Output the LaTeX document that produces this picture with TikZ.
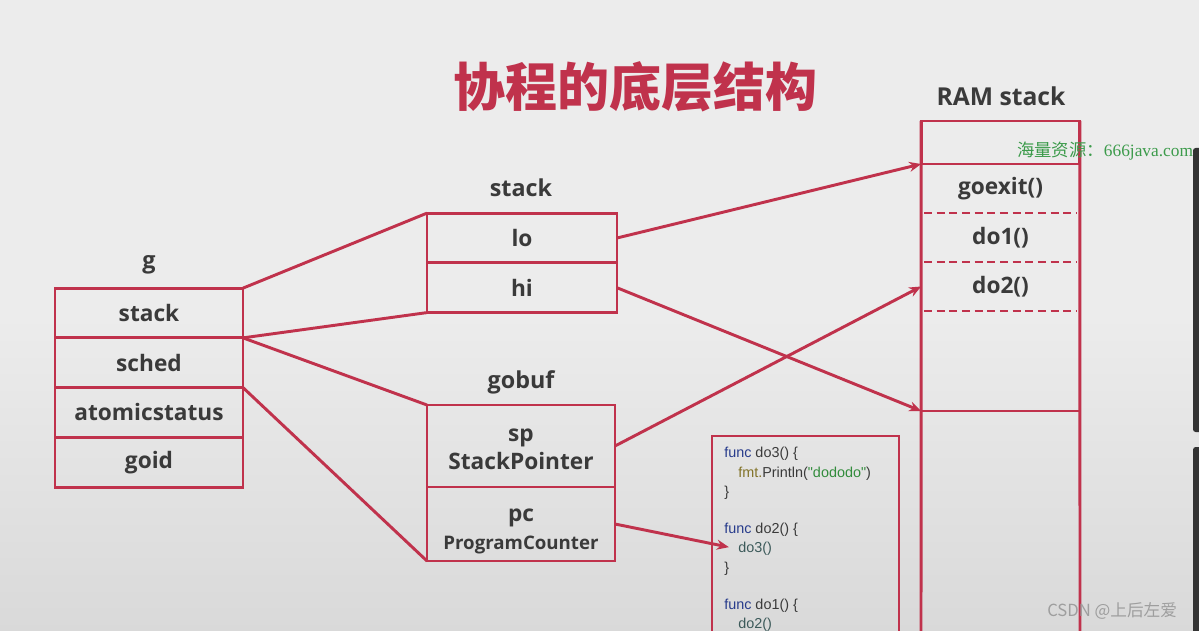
\documentclass[tikz,border=0pt]{standalone}
\usepackage{fontspec}
\setmainfont{Open Sans}
\newfontfamily\cjk{Noto Sans CJK SC}
\newfontfamily\codefont{Liberation Sans}
\newfontfamily\wmfont{Liberation Serif}
\usetikzlibrary{arrows.meta}
\definecolor{crim}{RGB}{192,50,76}
\definecolor{txt}{RGB}{58,58,58}
\definecolor{bgc}{RGB}{236,236,236}
\definecolor{kw}{RGB}{40,60,140}
\definecolor{fm}{RGB}{130,115,40}
\definecolor{strc}{RGB}{50,140,60}
\definecolor{idc}{RGB}{60,90,90}
\definecolor{wmg}{RGB}{60,155,75}
\tikzset{
  cell/.style={draw=crim, line width=2.2pt, inner sep=0pt, outer sep=0pt, text=txt,
    font=\bfseries\fontsize{17}{20}\selectfont, align=center},
  ramcell/.style={inner sep=0pt, outer sep=0pt, text=txt, minimum width=119pt,
    font=\bfseries\fontsize{17}{20}\selectfont},
  lbl/.style={text=txt, font=\bfseries\fontsize{17.5}{20}\selectfont, inner sep=0pt},
  link/.style={draw=crim, line width=2.2pt},
  arr/.style={link, -{Stealth[length=9pt,width=7.5pt]}},
  dsh/.style={draw=crim, line width=1.5pt, dash pattern=on 6pt off 3.5pt, shorten <=2pt, shorten >=2pt},
  codeln/.style={anchor=west, inner sep=0pt, font=\codefont\fontsize{10.8}{13}\selectfont, text=txt},
}
\begin{document}
\begin{tikzpicture}[x=0.75pt,y=-0.75pt]
\useasboundingbox (0,0) rectangle (1199,631);
\clip (0,0) rectangle (1199,631);
\shade[top color=bgc, bottom color=bgc!92!black, middle color=bgc] (0,0) rectangle (1199,631);

% title
\node[text=crim, font=\cjk\bfseries\fontsize{39}{44}\selectfont] (title) at (635,87) {协程的底层结构};

% g struct
\node[lbl] (glbl) at (149,265) {g};
\node[cell, minimum width=141pt, minimum height=37.3pt] (g1) at (149,313) {stack};
\node[cell, minimum width=141pt, minimum height=37.3pt, anchor=north] (g2) at (g1.south) {sched};
\node[cell, minimum width=141pt, minimum height=37.3pt, anchor=north] (g3) at (g2.south) {atomicstatus};
\node[cell, minimum width=141pt, minimum height=37.3pt, anchor=north] (g4) at (g3.south) {goid};

% stack struct
\node[lbl] (slbl) at (521,188) {stack};
\node[cell, minimum width=142.5pt, minimum height=37.3pt] (lo) at (522,238) {lo};
\node[cell, minimum width=142.5pt, minimum height=37.3pt, anchor=north] (hi) at (lo.south) {hi};

% gobuf struct
\node[lbl] (bufl) at (521,382) {gobuf};
\node[cell, minimum width=141pt, minimum height=61.5pt] (sp) at (521,446)
  {\rule{0pt}{15pt}sp\\[1pt]StackPointer};
\node[cell, minimum width=141pt, minimum height=55.5pt, anchor=north] (pc) at (sp.south)
  {\rule{0pt}{21pt}pc\\[1pt]{\fontsize{14}{16}\selectfont ProgramCounter}};

% RAM stack
\node[lbl, font=\bfseries\fontsize{18.5}{22}\selectfont] (raml) at (1001,96) {RAM stack};
\node[draw=crim, line width=2.2pt, minimum width=119pt, minimum height=32.25pt, inner sep=0pt, outer sep=0pt] (ramtop) at (1000.5,142.5) {};
\node[ramcell, minimum height=36.75pt, anchor=north] (goexit) at (ramtop.south) {goexit()};
\node[ramcell, minimum height=36.75pt, anchor=north] (do1) at (goexit.south) {do1()};
\node[ramcell, minimum height=36.75pt, anchor=north] (do2) at (do1.south) {do2()};
\node[ramcell, minimum height=75pt, anchor=north] (free) at (do2.south) {};
\coordinate (rambl) at (921,660);
\coordinate (rambr) at (1080,660);
\draw[link] (ramtop.north west) -- (rambl);
\draw[link] (ramtop.north east) -- (rambr);
\draw[dsh] (goexit.south west) -- (goexit.south east);
\draw[dsh] (do1.south west) -- (do1.south east);
\draw[dsh] (do2.south west) -- (do2.south east);
\draw[link] (free.south west) -- (free.south east);

% code box
\coordinate (cbl) at (712,660);
\coordinate (cbr) at (899,660);
\coordinate (ctl) at (712,436);
\coordinate (ctr) at (899,436);
\draw[link] (cbl) -- (ctl) -- (ctr) -- (cbr);
\node[codeln] (c1) at (724,454) {\textcolor{kw}{func} do3() \{};
\node[codeln] (c2) at (738,474) {\textcolor{fm}{fmt.}Println(\textcolor{strc}{"dododo"})};
\node[codeln] (c3) at (724,493) {\}};
\node[codeln] (c4) at (724,530) {\textcolor{kw}{func} do2() \{};
\node[codeln, text=idc] (c5) at (738,549) {do3()};
\node[codeln] (c6) at (724,569) {\}};
\node[codeln] (c7) at (724,606) {\textcolor{kw}{func} do1() \{};
\node[codeln, text=idc] (c8) at (738,625) {do2()};

% connectors
\draw[link] (g1.north east) -- (lo.north west);
\draw[link] (g1.south east) -- (hi.south west);
\draw[link] (g1.south east) -- (sp.north west);
\draw[link] (g2.south east) -- (pc.south west);
\draw[arr] (lo.east) -- (goexit.north west);
\draw[arr] (hi.east) -- (free.south west);
\draw[arr] (sp.east) -- (do2.west);
\draw[arr, shorten >=7pt] (pc.east) -- (c5.west);

% watermarks and screen edge
\node[anchor=west, inner sep=0pt, text=wmg, font=\fontsize{13}{15}\selectfont] (wm) at (1017,151)
  {{\cjk 海量资源：}\wmfont 666java.com};
\node[anchor=west, inner sep=0pt, text=black!38, font=\cjk\fontsize{12.5}{14}\selectfont] (csdn) at (1047,611)
  {CSDN @上后左爱};
\fill[black!80, rounded corners=2pt] (1193,148) rectangle (1205,432);
\fill[black!80, rounded corners=2pt] (1193,447) rectangle (1205,640);
\end{tikzpicture}
\end{document}
